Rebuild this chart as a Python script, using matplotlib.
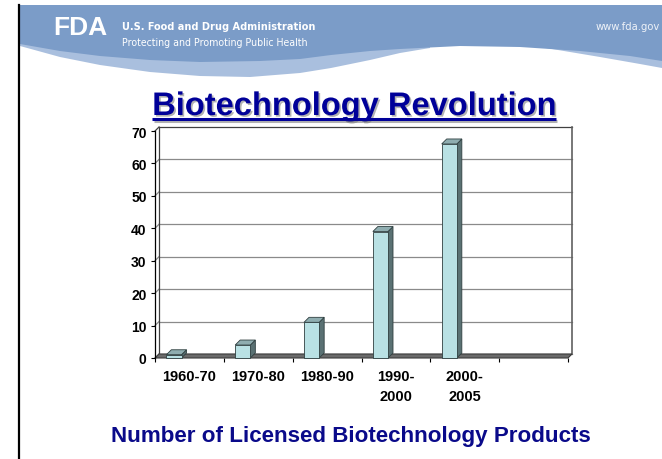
import matplotlib
matplotlib.use('Agg')
import matplotlib.pyplot as plt
import numpy as np
from matplotlib.patches import Polygon
import matplotlib.patheffects as pe

# ---------------- data ----------------
categories = ['1960-70', '1970-80', '1980-90', '1990-\n2000', '2000-\n2005', '']
values = [1, 4, 11, 39, 66]
yticks = [0, 10, 20, 30, 40, 50, 60, 70]
title = 'Biotechnology Revolution'
caption = 'Number of Licensed Biotechnology Products'
org_name = 'U.S. Food and Drug Administration'
org_tag = 'Protecting and Promoting Public Health'
org_url = 'www.fda.gov'

plt.rcParams['font.family'] = ['Liberation Sans', 'DejaVu Sans']

W, H = 662, 460
fig = plt.figure(figsize=(W / 100, H / 100), dpi=100)
fig.patch.set_facecolor('white')

# ---------------- background / header ----------------
bg = fig.add_axes([0, 0, 1, 1])
bg.set_xlim(0, W)
bg.set_ylim(H, 0)
bg.axis('off')

dark_col = '#7b9cc8'
light_col = '#a9bfde'
light_low = [(20, 47), (60, 58), (100, 66), (150, 73), (200, 77), (250, 78),
             (300, 74), (331, 69), (370, 61), (400, 54), (430, 49), (430, 30), (20, 30)]
bg.add_patch(Polygon(light_low, closed=True, fc=light_col, ec='none', zorder=1))
light_right = [(540, 48), (600, 58), (640, 65), (662, 69), (662, 30), (540, 30)]
bg.add_patch(Polygon(light_right, closed=True, fc=light_col, ec='none', zorder=1))
dark_edge = [(20, 45), (60, 52), (100, 57), (150, 61), (200, 63), (260, 62), (300, 60),
             (331, 56), (370, 52), (400, 50), (460, 47), (520, 48), (580, 52),
             (630, 57), (662, 62)]
bg.add_patch(Polygon([(20, 6), (662, 6)] + dark_edge[::-1], closed=True,
                     fc=dark_col, ec='none', zorder=2))
bg.plot([18.5, 18.5], [6, H], color='black', lw=1.6, zorder=3)

bg.text(80, 28, 'FDA', ha='center', va='center', fontsize=19, fontweight='bold',
        color='white', zorder=4)
bg.text(122, 26.5, org_name, ha='left', va='center', fontsize=7.8, fontweight='bold',
        family='DejaVu Sans', fontstretch='condensed', color='white', zorder=4)
bg.text(122, 43, org_tag, ha='left', va='center', fontsize=7.6,
        family='DejaVu Sans', fontstretch='condensed', color='white', zorder=4)
bg.text(660, 27, org_url, ha='right', va='center', fontsize=8,
        family='DejaVu Sans', fontstretch='condensed', color='#eef2f8', zorder=4)

title_col = '#000099'
shadow = [pe.withSimplePatchShadow(offset=(1.2, -1.2), shadow_rgbFace='#808080', alpha=0.6)]
t = bg.text(354, 116, title, ha='center', va='baseline', fontsize=23.5, fontweight='bold',
            color=title_col, zorder=5, path_effects=shadow)
fig.canvas.draw()
bb = t.get_window_extent()
bg.plot([bb.x0, bb.x1], [120, 120], color=title_col, lw=2.2, solid_capstyle='butt',
        zorder=5, path_effects=[pe.SimpleLineShadow(offset=(1.2, -1.2), shadow_color='#808080', alpha=0.6), pe.Normal()])

bg.text(351, 437, caption, ha='center', va='center', fontsize=16.1, fontweight='bold',
        color='#0a0a8a', zorder=5)

# ---------------- chart ----------------
ax = fig.add_axes([155 / W, 101 / H, 413 / W, 227 / H])
nslots = len(categories)
ax.set_xlim(0, nslots)
ax.set_ylim(0, yticks[-1])
ax.patch.set_alpha(0)
for s in ['top', 'right', 'bottom']:
    ax.spines[s].set_visible(False)
ax.spines['left'].set_color('black')
ax.spines['left'].set_linewidth(0.9)

ext = ax.get_window_extent()
px_x = ext.width / nslots
px_y = ext.height / yticks[-1]
wall_px, bar_px = 4.0, 5.0
wdx, wdy = wall_px / px_x, wall_px / px_y
bdx, bdy = bar_px / px_x, bar_px / px_y

# back wall with gridlines
for v in yticks:
    col = '#404040' if v == yticks[-1] else '#8a8a8a'
    ax.plot([wdx, nslots + wdx], [v + wdy, v + wdy], color=col, lw=0.9, clip_on=False, zorder=1)
    ax.plot([0, wdx], [v, v + wdy], color=col, lw=0.9, clip_on=False, zorder=1)
ax.plot([wdx, wdx], [wdy, yticks[-1] + wdy], color='#404040', lw=0.9, clip_on=False, zorder=1)
ax.plot([nslots + wdx, nslots + wdx], [wdy, yticks[-1] + wdy], color='#606060', lw=1.2,
        clip_on=False, zorder=1)

# floor
ax.add_patch(Polygon([(0, 0), (nslots, 0), (nslots + wdx, wdy), (wdx, wdy)], closed=True,
                     fc='#6a6a6a', ec='#3c3c3c', lw=0.8, clip_on=False, zorder=2))

# 3D bars
bar_w, bar_off = 0.22, 0.165
xs = np.arange(len(values)) + bar_off
ax.bar(xs, values, width=bar_w, align='edge', color='#b9e1e4', edgecolor='#2f3f40',
       linewidth=0.6, zorder=4, clip_on=False)
for x0, v in zip(xs, values):
    x1 = x0 + bar_w
    ax.add_patch(Polygon([(x1, 0), (x1 + bdx, bdy), (x1 + bdx, v + bdy), (x1, v)], closed=True,
                         fc='#5a7173', ec='#2f3f40', lw=0.6, clip_on=False, zorder=3))
    ax.add_patch(Polygon([(x0, v), (x1, v), (x1 + bdx, v + bdy), (x0 + bdx, v + bdy)], closed=True,
                         fc='#8fadb0', ec='#2f3f40', lw=0.6, clip_on=False, zorder=3))

# ticks
ax.set_yticks(yticks)
ax.set_yticklabels([str(v) for v in yticks])
ax.tick_params(axis='y', direction='out', length=3, width=0.8, pad=3, labelsize=10)
for lbl in ax.get_yticklabels():
    lbl.set_fontweight('bold')

ax.set_xticks(np.arange(nslots + 1))
ax.set_xticklabels([])
ax.tick_params(axis='x', which='major', direction='out', length=3, width=0.8)
ax.set_xticks(np.arange(nslots) + 0.5, minor=True)
ax.set_xticklabels(categories, minor=True)
ax.tick_params(axis='x', which='minor', length=0, pad=8, labelsize=10.5)
for lbl in ax.get_xticklabels(minor=True):
    lbl.set_fontweight('bold')
    lbl.set_linespacing(1.55)
    lbl.set_verticalalignment('top')

fig.savefig('out.png', dpi=100)
